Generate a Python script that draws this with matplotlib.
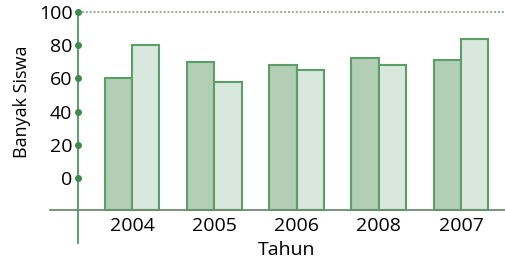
#!/usr/bin/env python3
"""Banyak Siswa per Tahun - grouped bar chart."""

import matplotlib
matplotlib.use('Agg')
import matplotlib.pyplot as plt

# ── Data ────────────────────────────────────────────────────────────
YEARS = ['2004', '2005', '2006', '2008', '2007']
SERIES_A = [60, 70, 68, 72, 71]
SERIES_B = [80, 58, 65, 68, 84]
Y_TICKS = [0, 20, 40, 60, 80, 100]

# ── Style ───────────────────────────────────────────────────────────
DARK_FILL = '#b2cfb5'
LIGHT_FILL = '#d9e8dc'
EDGE = '#5c9e68'
AXIS_GREEN = '#4a9a5a'
AXIS_GREY = '#6b8f70'
BASE = -19.3          # where the x axis sits (below the 0 tick)
YAXIS_X = -0.657      # where the y axis sits
WIDTH = 0.334

plt.rcParams['font.family'] = ['Open Sans', 'DejaVu Sans']
plt.rcParams['font.size'] = 14

fig = plt.figure(figsize=(5.06, 2.61), dpi=100)
ax = fig.add_axes([0, 0, 1, 1])
ax.set_facecolor('none')

x = list(range(len(YEARS)))
ax.bar([i - WIDTH / 2 for i in x], [v - BASE for v in SERIES_A], WIDTH, bottom=BASE,
       color=DARK_FILL, edgecolor=EDGE, linewidth=1.5, zorder=2)
ax.bar([i + WIDTH / 2 for i in x], [v - BASE for v in SERIES_B], WIDTH, bottom=BASE,
       color=LIGHT_FILL, edgecolor=EDGE, linewidth=1.5, zorder=2)

# dotted line at the top tick
ax.plot([YAXIS_X, 4.6], [100, 100], linestyle=(0, (1, 1)), color='#9aa89c',
        linewidth=1.4, zorder=1)

ax.set_xlim(-1.605, 4.547)
ax.set_ylim(-50, 107.2)

# axes drawn as spines placed in data coordinates
for side in ('top', 'right'):
    ax.spines[side].set_visible(False)
ax.spines['left'].set_position(('data', YAXIS_X))
ax.spines['left'].set_bounds(-39, 100)
ax.spines['left'].set_color(AXIS_GREEN)
ax.spines['left'].set_linewidth(1.3)
ax.spines['bottom'].set_position(('data', BASE))
ax.spines['bottom'].set_bounds(-1.0, 4.6)
ax.spines['bottom'].set_color(AXIS_GREY)
ax.spines['bottom'].set_linewidth(1.3)
ax.spines['left'].set_zorder(3)
ax.spines['bottom'].set_zorder(3)

ax.plot([YAXIS_X] * len(Y_TICKS), Y_TICKS, 'o', color='#3f8a4e', markersize=4,
        zorder=4, clip_on=False)

ax.set_yticks(Y_TICKS)
ax.set_yticklabels([str(t) for t in Y_TICKS])
ax.tick_params(axis='y', length=0, pad=4, labelsize=14)
ax.set_xticks(x)
ax.set_xticklabels(YEARS)
ax.tick_params(axis='x', length=0, pad=5, labelsize=14)

fig.text(22 / 506, 1 - 102 / 261, 'Banyak Siswa', rotation=90,
         ha='center', va='center', fontsize=13)
fig.text(287 / 506, 1 - 250 / 261, 'Tahun', ha='center', va='center', fontsize=14)

fig.savefig('out.png', dpi=100)
plt.close(fig)
